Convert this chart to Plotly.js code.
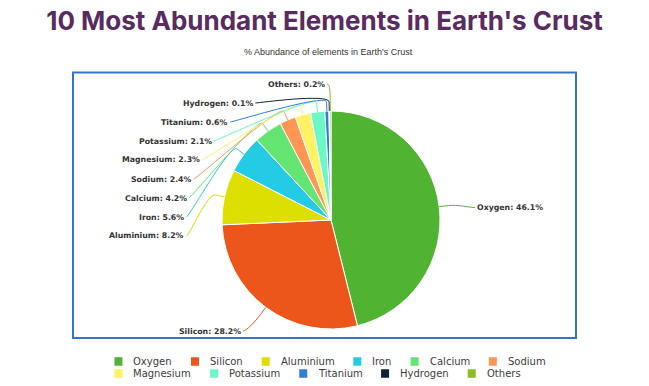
<!DOCTYPE html>
<html>
<head>
<meta charset="utf-8">
<script src="https://cdn.plot.ly/plotly-3.0.1.min.js"></script>
<style>
html,body{margin:0;padding:0;background:#ffffff;}
#chart{width:649px;height:386px;}
</style>
</head>
<body>
<div id="chart"></div>
<script>
// ---------------- data ----------------
const elements = ['Oxygen','Silicon','Aluminium','Iron','Calcium','Sodium','Magnesium','Potassium','Titanium','Hydrogen','Others'];
const abundance = [46.1, 28.2, 8.2, 5.6, 4.2, 2.4, 2.3, 2.1, 0.6, 0.1, 0.2];
const sliceColors = ['#50B432','#ED561B','#DDDF00','#24CBE5','#64E572','#FF9655','#FFF263','#6AF9C4','#2F7ED8','#0D233A','#8BBC21'];
const chartTitle = "10 Most Abundant Elements in Earth's Crust";
const chartSubtitle = "% Abundance of elements in Earth's Crust";

// ---------------- layout constants (pixels) ----------------
const W = 649, H = 386;
const CX = 331, CY = 220, R = 109;          // pie centre / radius
const LABEL_R = 142, LABEL_DY = 5;          // label circle
const LABEL_GAP = 19, LABEL_TOP = 84, LABEL_BOTTOM = 331;
const CONN_OFF = 9;
const px = x => x / W;
const py = y => 1 - y / H;

// ---------------- label geometry from data ----------------
const total = abundance.reduce((a, b) => a + b, 0);
let cum = 0;
const pts = abundance.map((v, i) => {
  const th = (cum + v / 2) / total * 2 * Math.PI;
  cum += v;
  const ux = Math.sin(th), uy = -Math.cos(th);
  return {i, ux, uy, left: ux < 0, natY: CY + LABEL_DY + LABEL_R * uy};
});
function getX(y, left) {
  const dy = y - CY - LABEL_DY;
  const d = Math.sqrt(Math.max(0, LABEL_R * LABEL_R - dy * dy));
  return left ? CX - d : CX + d;
}
function distribute(group) {
  group.sort((a, b) => a.natY - b.natY);
  let prev = -Infinity;
  group.forEach(p => { p.y = Math.max(p.natY, prev + LABEL_GAP, LABEL_TOP); prev = p.y; });
  let next = Infinity;
  for (let k = group.length - 1; k >= 0; k--) {
    const p = group[k];
    p.y = Math.min(p.y, next - LABEL_GAP, LABEL_BOTTOM); next = p.y;
  }
  group.forEach((p, k) => {
    const end = (k === 0 || k === group.length - 1);
    p.x = getX(end ? p.natY : p.y, p.left);
  });
}
distribute(pts.filter(p => p.left));
distribute(pts.filter(p => !p.left));

const annotations = [];
const shapes = [];

// outer frame
shapes.push({type:'rect', xref:'paper', yref:'paper', x0:px(73), x1:px(576), y0:py(338), y1:py(72.5),
  line:{color:'#3674C8', width:2}, fillcolor:'rgba(0,0,0,0)', layer:'below'});

pts.forEach(p => {
  const sign = p.left ? -1 : 1;
  annotations.push({
    xref:'paper', yref:'paper', x:px(p.x + sign * 5), y:py(p.y),
    xanchor: p.left ? 'right' : 'left', yanchor:'middle', showarrow:false,
    borderpad:0, borderwidth:0,
    text: elements[p.i] + ': ' + abundance[p.i].toFixed(1) + '%',
    font:{family:'DejaVu Sans', size:7.8, weight:'bold', color:'#333333'}
  });
  const sx = p.x + sign * 3, sy = p.y;
  const p4 = [CX + R * p.ux, CY + R * p.uy];
  const p2 = [CX + (R + CONN_OFF) * p.ux, CY + (R + CONN_OFF) * p.uy];
  const c2 = [CX + (R + 2 * CONN_OFF) * p.ux, CY + (R + 2 * CONN_OFF) * p.uy];
  const f = (x, y) => px(x).toFixed(5) + ',' + py(y).toFixed(5);
  shapes.push({
    type:'path', xref:'paper', yref:'paper',
    path: 'M' + f(sx, sy) + ' C' + f(p.x, p.y) + ' ' + f(c2[0], c2[1]) + ' ' + f(p2[0], p2[1]) + ' L' + f(p4[0], p4[1]),
    line:{color: sliceColors[p.i], width:1}
  });
});

// ---------------- custom flowing legend ----------------
const LEG_FONT = 10, LEG_FAMILY = 'DejaVu Sans';
const LEG_TEXT_OFF = 19, LEG_ITEM_GAP = 19, LEG_MAX_W = 460, LEG_CENTER = 330;
const LEG_ROW_Y = [361.5, 373.5], SW_W = 8, SW_H = 8.5;
const ctx = document.createElement('canvas').getContext('2d');
ctx.font = LEG_FONT + "px '" + LEG_FAMILY + "'";
const rows = [[]];
let rowW = 0;
elements.forEach((name, i) => {
  const w = LEG_TEXT_OFF + ctx.measureText(name).width;
  let cur = rows[rows.length - 1];
  const need = cur.length ? rowW + LEG_ITEM_GAP + w : w;
  if (cur.length && need > LEG_MAX_W) { rows.push([]); cur = rows[rows.length - 1]; rowW = 0; }
  const x = cur.length ? rowW + LEG_ITEM_GAP : 0;
  cur.push({i, name, x, w});
  rowW = x + w;
});
const blockW = Math.max(...rows.map(r => r[r.length - 1].x + r[r.length - 1].w));
const legX0 = LEG_CENTER - blockW / 2;
rows.forEach((r, ri) => {
  const yc = LEG_ROW_Y[ri] !== undefined ? LEG_ROW_Y[ri] : LEG_ROW_Y[0] + ri * 12;
  r.forEach(it => {
    const x0 = legX0 + it.x;
    shapes.push({type:'rect', xref:'paper', yref:'paper', x0:px(x0), x1:px(x0 + SW_W),
      y0:py(yc + SW_H / 2), y1:py(yc - SW_H / 2), line:{width:0}, fillcolor:sliceColors[it.i]});
    annotations.push({xref:'paper', yref:'paper', x:px(x0 + LEG_TEXT_OFF), y:py(yc),
      xanchor:'left', yanchor:'middle', showarrow:false, borderpad:0, borderwidth:0,
      text: it.name, font:{family:LEG_FAMILY, size:LEG_FONT, color:'#3d3d3d'}});
  });
});

// subtitle
annotations.push({xref:'paper', yref:'paper', x:px(328), y:py(52), xanchor:'center', yanchor:'middle',
  showarrow:false, text: chartSubtitle, font:{family:'Liberation Sans, Arial', size:9, color:'#333333'}});

// ---------------- pie ----------------
const trace = {
  type:'pie', labels: elements, values: abundance, sort:false, direction:'clockwise', rotation:0,
  marker:{colors: sliceColors, line:{color:'#ffffff', width:1}},
  textinfo:'none', hoverinfo:'none', showlegend:false,
  domain:{x:[px(CX - R), px(CX + R)], y:[py(CY + R), py(CY - R)]}
};

const layout = {
  width: W, height: H,
  margin:{l:0, r:0, t:0, b:0, pad:0},
  paper_bgcolor:'#ffffff', plot_bgcolor:'#ffffff',
  showlegend:false,
  title:{text: chartTitle, x:0.5, xanchor:'center', y:py(21), yanchor:'middle', yref:'container',
    font:{family:'Inter, Roboto, sans-serif', size:26, weight:700, color:'#5A2B60'}},
  shapes, annotations
};

Plotly.newPlot('chart', [trace], layout, {displayModeBar:false, staticPlot:true});
</script>
</body>
</html>
